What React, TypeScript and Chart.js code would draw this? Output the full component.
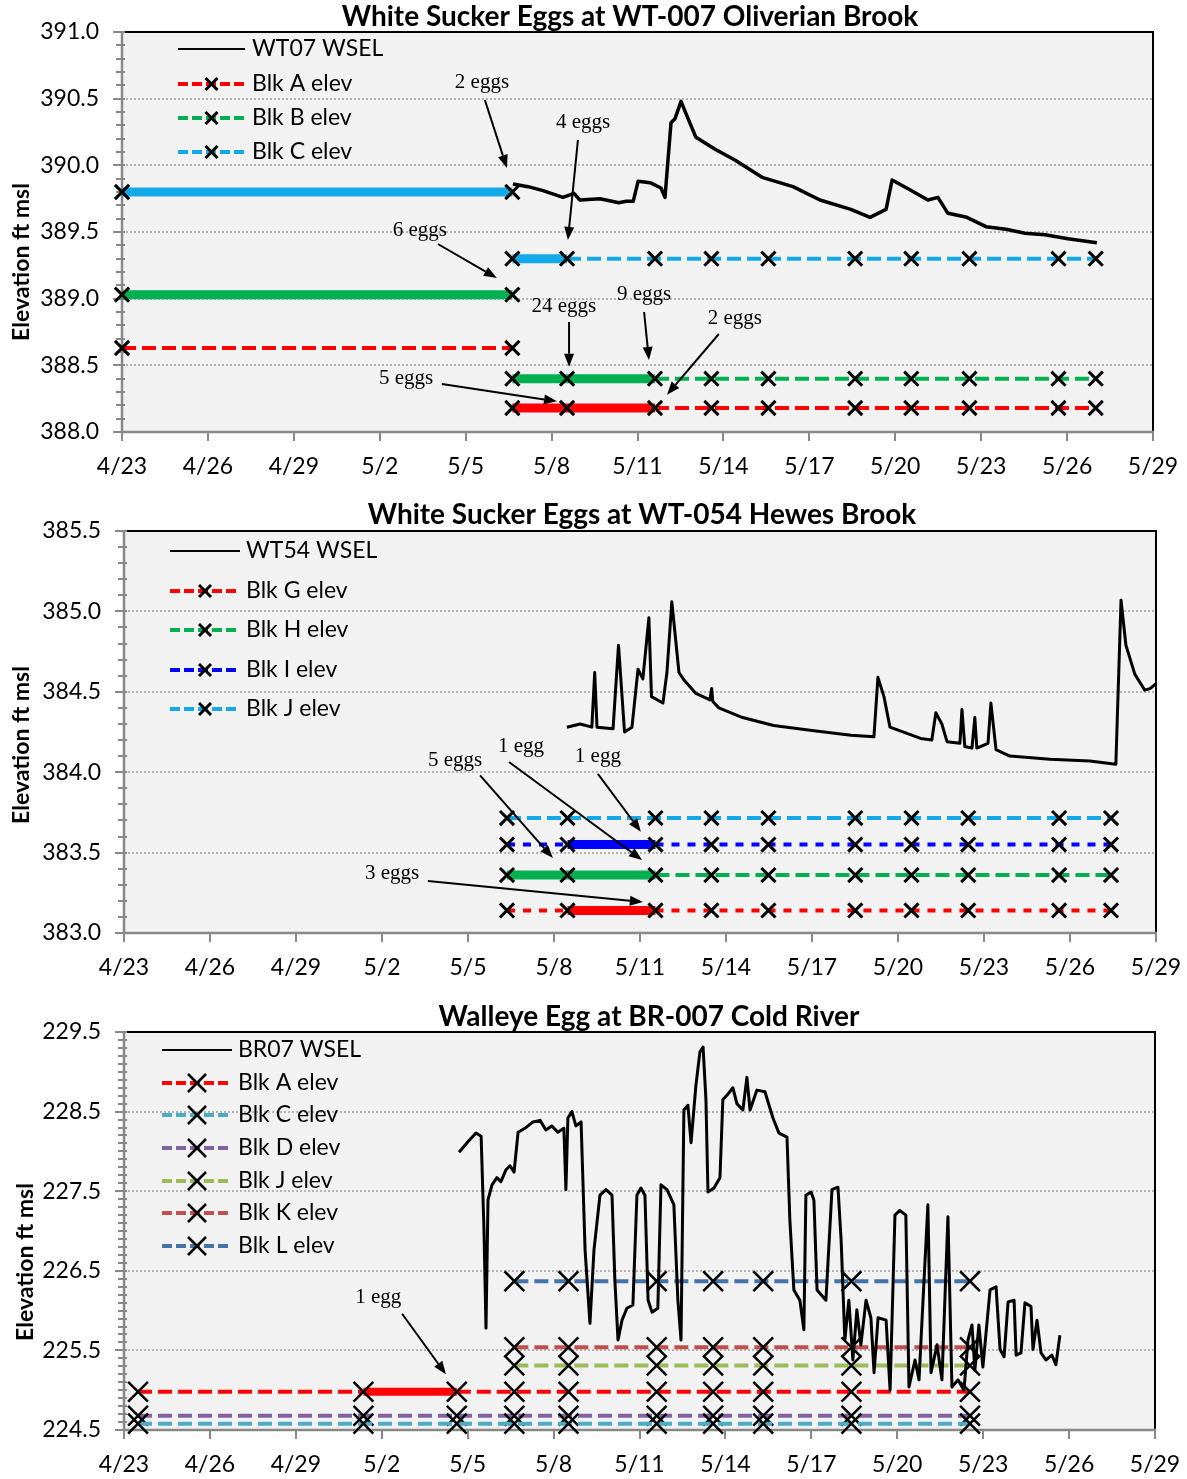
import React, { useEffect, useRef } from "react";
import { Chart, registerables } from "chart.js";

Chart.register(...registerables);

const FONT = "Lato, 'Open Sans', sans-serif";
const SERIF = "'Liberation Serif', 'DejaVu Serif', serif";

// ---------- shared x axis (days after 4/23) ----------
const xTickDays = [0, 3, 6, 9, 12, 15, 18, 21, 24, 27, 30, 33, 36];
const xTickLabels = ["4/23", "4/26", "4/29", "5/2", "5/5", "5/8", "5/11", "5/14", "5/17", "5/20", "5/23", "5/26", "5/29"];

// ---------- Panel 1: WT-007 Oliverian Brook ----------
const p1Title = "White Sucker Eggs at WT-007 Oliverian Brook";
const p1YTicks = [388.0, 388.5, 389.0, 389.5, 390.0, 390.5, 391.0];
const wt07Days = [13.65, 14.18, 14.7, 15.4, 15.78, 15.99, 16.69, 17.35, 17.6, 17.85, 18.02, 18.44, 18.82, 18.96, 19.17, 19.31, 19.52, 19.69, 20.04, 20.71, 21.4, 22.35, 23.43, 24.37, 25.45, 26.12, 26.68, 26.89, 27.48, 28.14, 28.49, 28.84, 29.5, 30.17, 30.87, 31.53, 32.23, 33.03, 34.04];
const wt07Elev = [389.86, 389.84, 389.81, 389.76, 389.79, 389.74, 389.75, 389.72, 389.73, 389.73, 389.88, 389.87, 389.83, 389.76, 390.32, 390.35, 390.48, 390.39, 390.21, 390.12, 390.04, 389.91, 389.84, 389.74, 389.67, 389.61, 389.67, 389.89, 389.82, 389.74, 389.76, 389.64, 389.61, 389.54, 389.52, 389.49, 389.48, 389.45, 389.42];
const p1EarlyDays = [0, 13.63];
const p1LateDays = [13.63, 15.54, 18.61, 20.58, 22.57, 25.6, 27.56, 29.59, 32.7, 34.0];
const p1BlkAElev = [388.63, 388.18];
const p1BlkBElev = [389.03, 388.4];
const p1BlkCElev = [389.8, 389.3];
const p1BlkAEggSegs = [[], [0, 1]];
const p1BlkBEggSegs = [[0], [0, 1]];
const p1BlkCEggSegs = [[0], [0]];
const p1NoteLabels = ["2 eggs", "4 eggs", "6 eggs", "24 eggs", "9 eggs", "2 eggs", "5 eggs"];
const p1NoteText = [[12.57, 390.625], [16.1, 390.32], [10.4, 389.515], [15.43, 388.94], [18.23, 389.035], [21.4, 388.855], [9.92, 388.4]];
const p1NoteTail = [[12.67, 390.49], [15.92, 390.19], [11.03, 389.41], [15.61, 388.825], [18.23, 388.9], [20.84, 388.735], [11.17, 388.36]];
const p1NoteHead = [[13.44, 389.98], [15.57, 389.44], [13.09, 389.155], [15.61, 388.49], [18.4, 388.54], [19.03, 388.28], [15.19, 388.23]];

// ---------- Panel 2: WT-054 Hewes Brook ----------
const p2Title = "White Sucker Eggs at WT-054 Hewes Brook";
const p2YTicks = [383.0, 383.5, 384.0, 384.5, 385.0, 385.5];
const wt54Days = [15.45, 15.91, 16.32, 16.42, 16.5, 17.06, 17.25, 17.46, 17.72, 17.93, 18.1, 18.31, 18.4, 18.8, 18.94, 19.11, 19.36, 19.55, 19.95, 20.44, 20.5, 20.54, 20.75, 21.58, 22.66, 24.0, 25.36, 26.16, 26.3, 26.51, 26.72, 27.79, 28.18, 28.32, 28.53, 28.71, 29.16, 29.23, 29.33, 29.58, 29.68, 29.75, 30.14, 30.24, 30.42, 30.9, 32.3, 33.69, 34.6, 34.78, 34.95, 35.26, 35.61, 35.79, 36.0];
const wt54Elev = [384.28, 384.3, 384.28, 384.62, 384.28, 384.27, 384.79, 384.25, 384.28, 384.64, 384.58, 384.96, 384.47, 384.43, 384.62, 385.06, 384.62, 384.57, 384.49, 384.45, 384.52, 384.44, 384.4, 384.34, 384.29, 384.26, 384.23, 384.22, 384.59, 384.47, 384.28, 384.21, 384.2, 384.37, 384.3, 384.19, 384.18, 384.39, 384.16, 384.15, 384.34, 384.15, 384.18, 384.43, 384.14, 384.1, 384.08, 384.07, 384.05, 385.07, 384.79, 384.61, 384.51, 384.52, 384.55];
const p2Days = [13.36, 15.47, 18.54, 20.49, 22.48, 25.51, 27.47, 29.45, 32.62, 34.43];
const p2BlkGElev = 383.14;
const p2BlkHElev = 383.36;
const p2BlkIElev = 383.55;
const p2BlkJElev = 383.715;
const p2BlkGEggSegs = [1];
const p2BlkHEggSegs = [0, 1];
const p2BlkIEggSegs = [1];
const p2BlkJEggSegs = [];
const p2NoteLabels = ["1 egg", "5 eggs", "1 egg", "3 eggs"];
const p2NoteText = [[13.85, 384.163], [11.55, 384.07], [16.53, 384.095], [9.35, 383.373]];
const p2NoteTail = [[13.43, 384.063], [12.42, 383.98], [16.53, 383.99], [10.6, 383.323]];
const p2NoteHead = [[18.07, 383.454], [14.96, 383.466], [18.03, 383.63], [18.1, 383.193]];

// ---------- Panel 3: BR-007 Cold River ----------
const p3Title = "Walleye Egg at BR-007 Cold River";
const p3YTicks = [224.5, 225.5, 226.5, 227.5, 228.5, 229.5];
const br07Days = [11.7, 12.01, 12.29, 12.47, 12.57, 12.64, 12.71, 12.85, 13.02, 13.16, 13.34, 13.48, 13.62, 13.76, 14.0, 14.28, 14.53, 14.73, 14.94, 15.15, 15.36, 15.43, 15.5, 15.64, 15.78, 15.96, 16.1, 16.27, 16.41, 16.62, 16.83, 17.04, 17.14, 17.25, 17.39, 17.56, 17.77, 17.91, 18.05, 18.19, 18.3, 18.44, 18.64, 18.75, 18.96, 19.2, 19.34, 19.45, 19.55, 19.69, 19.8, 19.97, 20.11, 20.22, 20.32, 20.39, 20.6, 20.81, 20.91, 21.09, 21.26, 21.4, 21.61, 21.75, 21.86, 22.1, 22.38, 22.66, 22.87, 23.15, 23.25, 23.39, 23.6, 23.74, 23.81, 23.99, 24.09, 24.2, 24.51, 24.72, 24.93, 25.04, 25.17, 25.31, 25.45, 25.59, 25.73, 25.91, 26.08, 26.19, 26.33, 26.61, 26.75, 26.92, 27.09, 27.3, 27.41, 27.62, 27.76, 27.9, 28.07, 28.18, 28.39, 28.56, 28.77, 28.91, 29.12, 29.33, 29.47, 29.61, 29.71, 29.85, 29.99, 30.24, 30.45, 30.59, 30.73, 30.87, 31.08, 31.15, 31.32, 31.46, 31.67, 31.74, 31.88, 32.02, 32.19, 32.4, 32.54, 32.68];
const br07Elev = [227.99, 228.12, 228.23, 228.19, 227.01, 225.78, 227.39, 227.58, 227.67, 227.62, 227.77, 227.82, 227.74, 228.24, 228.29, 228.37, 228.39, 228.27, 228.32, 228.24, 228.29, 227.52, 228.42, 228.5, 228.32, 228.37, 226.76, 225.84, 226.76, 227.45, 227.52, 227.45, 226.38, 225.63, 225.88, 226.03, 226.07, 227.45, 227.54, 227.45, 226.13, 225.98, 226.03, 227.58, 227.52, 227.33, 226.13, 225.63, 228.52, 228.58, 228.11, 228.83, 229.25, 229.31, 228.65, 227.49, 227.54, 227.67, 228.65, 228.72, 228.8, 228.6, 228.52, 228.93, 228.52, 228.77, 228.75, 228.42, 228.23, 228.18, 227.14, 226.26, 226.13, 225.76, 227.45, 227.49, 227.39, 226.26, 226.13, 227.52, 227.55, 226.89, 225.63, 226.13, 225.38, 226.01, 225.57, 226.13, 225.91, 225.22, 225.91, 225.88, 225.0, 227.2, 227.26, 227.2, 225.04, 225.38, 225.13, 226.13, 227.33, 225.22, 225.57, 225.13, 227.18, 225.04, 225.13, 225.0, 225.63, 225.82, 225.25, 225.82, 225.29, 226.26, 226.3, 225.51, 225.42, 226.11, 226.13, 225.44, 225.47, 226.1, 226.05, 225.51, 225.88, 225.47, 225.38, 225.44, 225.32, 225.69];
const p3DaysAll = [0.49, 8.36, 11.62, 13.63, 15.52, 18.6, 20.57, 22.32, 25.4, 29.54];
const p3DaysLate = [13.63, 15.52, 18.6, 20.57, 22.32, 25.4, 29.54];
const p3BlkAElev = 224.98;
const p3BlkCElev = 224.58;
const p3BlkDElev = 224.68;
const p3BlkJElev = 225.31;
const p3BlkKElev = 225.54;
const p3BlkLElev = 226.37;
const p3BlkAEggSegs = [1];
const p3NoteLabels = ["1 egg"];
const p3NoteText = [[8.88, 226.16]];
const p3NoteTail = [[9.71, 225.96]];
const p3NoteHead = [[11.24, 225.2]];

// ---------- colours ----------
const RED = "#FF0000";
const GREEN = "#00B050";
const SKY = "#12A9E6";
const BLUE = "#0000FF";
const LONG = [14, 6];
const SHORT = [8, 8];

const panels = [
  {
    top: 0, height: 495, area: { left: 122, top: 32, right: 1153, bottom: 432 },
    title: p1Title, titleX: 630, titleY: 17, yTitleX: 22, yTitleY: 262,
    yMin: 388, yMax: 391, yTicks: p1YTicks, gridVals: [388.5, 389, 389.5, 390, 390.5],
    wsel: { label: "WT07 WSEL", days: wt07Days, elev: wt07Elev, width: 3.5 },
    blocks: [
      { label: "Blk A elev", color: RED, dash: LONG, parts: [
        { days: p1EarlyDays, elev: p1BlkAElev[0], eggs: p1BlkAEggSegs[0] },
        { days: p1LateDays, elev: p1BlkAElev[1], eggs: p1BlkAEggSegs[1] }] },
      { label: "Blk B elev", color: GREEN, dash: LONG, parts: [
        { days: p1EarlyDays, elev: p1BlkBElev[0], eggs: p1BlkBEggSegs[0] },
        { days: p1LateDays, elev: p1BlkBElev[1], eggs: p1BlkBEggSegs[1] }] },
      { label: "Blk C elev", color: SKY, dash: LONG, parts: [
        { days: p1EarlyDays, elev: p1BlkCElev[0], eggs: p1BlkCEggSegs[0] },
        { days: p1LateDays, elev: p1BlkCElev[1], eggs: p1BlkCEggSegs[1] }] },
    ],
    lineW: 4, thickW: 9, markR: 10, markW: 3,
    legend: { x0: 56, x1: 123, rows: [17, 52, 86, 120], half: 6, markW: 3, gap: 7 },
    notes: { labels: p1NoteLabels, text: p1NoteText, tail: p1NoteTail, head: p1NoteHead },
  },
  {
    top: 495, height: 500, area: { left: 124, top: 531, right: 1156, bottom: 933 },
    title: p2Title, titleX: 642, titleY: 515, yTitleX: 22, yTitleY: 745,
    yMin: 383, yMax: 385.5, yTicks: p2YTicks, gridVals: [383.5, 384, 384.5, 385],
    wsel: { label: "WT54 WSEL", days: wt54Days, elev: wt54Elev, width: 3 },
    blocks: [
      { label: "Blk G elev", color: RED, dash: SHORT, parts: [{ days: p2Days, elev: p2BlkGElev, eggs: p2BlkGEggSegs }] },
      { label: "Blk H elev", color: GREEN, dash: LONG, parts: [{ days: p2Days, elev: p2BlkHElev, eggs: p2BlkHEggSegs }] },
      { label: "Blk I elev", color: BLUE, dash: SHORT, parts: [{ days: p2Days, elev: p2BlkIElev, eggs: p2BlkIEggSegs }] },
      { label: "Blk J elev", color: SKY, dash: LONG, parts: [{ days: p2Days, elev: p2BlkJElev, eggs: p2BlkJEggSegs }] },
    ],
    lineW: 4, thickW: 9, markR: 10, markW: 3,
    legend: { x0: 46, x1: 116, rows: [20, 60, 99, 139, 178], half: 6, markW: 3, gap: 6 },
    notes: { labels: p2NoteLabels, text: p2NoteText, tail: p2NoteTail, head: p2NoteHead },
  },
  {
    top: 995, height: 484, area: { left: 124, top: 1032, right: 1155, bottom: 1430 },
    title: p3Title, titleX: 649, titleY: 1017, yTitleX: 26, yTitleY: 1262,
    yMin: 224.5, yMax: 229.5, yTicks: p3YTicks, gridVals: [225.5, 226.5, 227.5, 228.5],
    wsel: { label: "BR07 WSEL", days: br07Days, elev: br07Elev, width: 3 },
    blocks: [
      { label: "Blk A elev", color: RED, dash: LONG, parts: [{ days: p3DaysAll, elev: p3BlkAElev, eggs: p3BlkAEggSegs }] },
      { label: "Blk C elev", color: "#4BACC6", dash: LONG, parts: [{ days: p3DaysAll, elev: p3BlkCElev, eggs: [] }] },
      { label: "Blk D elev", color: "#8064A2", dash: LONG, parts: [{ days: p3DaysAll, elev: p3BlkDElev, eggs: [] }] },
      { label: "Blk J elev", color: "#9BBB59", dash: LONG, parts: [{ days: p3DaysLate, elev: p3BlkJElev, eggs: [] }] },
      { label: "Blk K elev", color: "#C0504D", dash: LONG, parts: [{ days: p3DaysLate, elev: p3BlkKElev, eggs: [] }] },
      { label: "Blk L elev", color: "#4572A7", dash: LONG, parts: [{ days: p3DaysLate, elev: p3BlkLElev, eggs: [] }] },
    ],
    lineW: 4, thickW: 8, markR: 14, markW: 2.5,
    legend: { x0: 38, x1: 108, rows: [18, 51, 83, 116, 149, 181, 214], half: 9, markW: 2.5, gap: 6 },
    notes: { labels: p3NoteLabels, text: p3NoteText, tail: p3NoteTail, head: p3NoteHead },
  },
];

function seg(ctx, x0, y0, x1, y1) {
  ctx.beginPath();
  ctx.moveTo(x0, y0);
  ctx.lineTo(x1, y1);
  ctx.stroke();
}

function arrow(ctx, x0, y0, x1, y1) {
  const ang = Math.atan2(y1 - y0, x1 - x0);
  const hl = 13, hw = 5;
  const bx = x1 - hl * Math.cos(ang), by = y1 - hl * Math.sin(ang);
  ctx.lineWidth = 2;
  seg(ctx, x0, y0, bx, by);
  ctx.beginPath();
  ctx.moveTo(x1, y1);
  ctx.lineTo(bx + hw * Math.sin(ang), by - hw * Math.cos(ang));
  ctx.lineTo(bx - hw * Math.sin(ang), by + hw * Math.cos(ang));
  ctx.closePath();
  ctx.fill();
}

function decor(p) {
  return {
    id: "decor",
    beforeDraw(chart) {
      const { ctx, chartArea: c } = chart;
      ctx.save();
      ctx.fillStyle = "#FFFFFF";
      ctx.fillRect(0, 0, chart.width, chart.height);
      ctx.fillStyle = "#F2F2F2";
      ctx.fillRect(c.left, c.top, c.right - c.left, c.bottom - c.top);
      ctx.restore();
    },
    beforeDatasetsDraw(chart) {
      const { ctx, chartArea: c, scales } = chart;
      const ys = scales.y, xs = scales.x;
      ctx.save();
      ctx.strokeStyle = "#A0A0A0";
      ctx.lineWidth = 1.5;
      ctx.setLineDash([2, 2]);
      p.gridVals.forEach((v) => {
        const y = Math.round(ys.getPixelForValue(v));
        seg(ctx, c.left, y, c.right, y);
      });
      ctx.setLineDash([]);
      ctx.strokeStyle = "#000";
      ctx.lineWidth = 2;
      seg(ctx, c.left, c.top, c.right + 1, c.top);
      seg(ctx, c.right, c.top, c.right, c.bottom);
      ctx.strokeStyle = "#888888";
      ctx.lineWidth = 2.5;
      seg(ctx, c.left, c.top, c.left, c.bottom + 1);
      seg(ctx, c.left, c.bottom, c.right + 1, c.bottom);
      ctx.lineWidth = 2;
      const n = Math.round((p.yMax - p.yMin) / 0.1);
      for (let i = 0; i <= n; i++) {
        const y = Math.round(ys.getPixelForValue(p.yMin + i * 0.1));
        seg(ctx, c.left - 6, y, c.left + 3, y);
      }
      p.yTicks.forEach((v) => {
        const y = Math.round(ys.getPixelForValue(v));
        seg(ctx, c.left - 9, y, c.left, y);
      });
      xTickDays.forEach((d) => {
        const x = Math.round(xs.getPixelForValue(d));
        seg(ctx, x, c.bottom, x, c.bottom + 9);
      });
      ctx.restore();
    },
    afterDraw(chart) {
      const { ctx, chartArea: c, scales } = chart;
      const ys = scales.y, xs = scales.x;
      ctx.save();
      ctx.fillStyle = "#000";
      ctx.textAlign = "center";
      ctx.textBaseline = "middle";
      ctx.font = `bold 28px ${FONT}`;
      ctx.fillText(p.title, p.titleX, p.titleY - p.top);
      ctx.save();
      ctx.translate(p.yTitleX, p.yTitleY - p.top);
      ctx.rotate(-Math.PI / 2);
      ctx.font = `bold 23px ${FONT}`;
      ctx.fillText("Elevation ft msl", 0, 0);
      ctx.restore();

      const L = p.legend;
      const entries = [{ label: p.wsel.label, color: null }].concat(
        p.blocks.map((b) => ({ label: b.label, color: b.color }))
      );
      entries.forEach((e, i) => {
        const y = c.top + L.rows[i];
        const x0 = c.left + L.x0, x1 = c.left + L.x1;
        if (!e.color) {
          ctx.strokeStyle = "#000";
          ctx.lineWidth = 2;
          seg(ctx, x0, y, x1, y);
        } else {
          ctx.strokeStyle = e.color;
          ctx.lineWidth = 4;
          ctx.setLineDash([10, 4]);
          seg(ctx, x0, y, x1, y);
          ctx.setLineDash([]);
          const xm = (x0 + x1) / 2, h = L.half;
          ctx.strokeStyle = "#000";
          ctx.lineWidth = L.markW;
          seg(ctx, xm - h, y - h, xm + h, y + h);
          seg(ctx, xm - h, y + h, xm + h, y - h);
        }
        ctx.fillStyle = "#000";
        ctx.font = `23px ${FONT}`;
        ctx.textAlign = "left";
        ctx.fillText(e.label, x1 + L.gap, y);
      });

      ctx.font = `21px ${SERIF}`;
      ctx.textAlign = "center";
      ctx.fillStyle = "#000";
      ctx.strokeStyle = "#000";
      p.notes.labels.forEach((t, i) => {
        const [tx, ty] = p.notes.text[i];
        ctx.fillText(t, xs.getPixelForValue(tx), ys.getPixelForValue(ty));
        const [fx, fy] = p.notes.tail[i];
        const [hx, hy] = p.notes.head[i];
        arrow(ctx, xs.getPixelForValue(fx), ys.getPixelForValue(fy), xs.getPixelForValue(hx), ys.getPixelForValue(hy));
      });
      ctx.restore();
    },
  };
}

function buildChart(canvas, p) {
  const a = p.area;
  const padTop = a.top - p.top;
  const padRight = 1187 - a.right;
  const xH = p.top + p.height - a.bottom;
  const datasets = [];
  datasets.push({
    label: p.wsel.label,
    data: p.wsel.days.map((d, i) => ({ x: d, y: p.wsel.elev[i] })),
    borderColor: "#000",
    backgroundColor: "#000",
    borderWidth: p.wsel.width,
    borderJoinStyle: "round",
    pointRadius: 0,
    tension: 0,
  });
  p.blocks.forEach((b) => {
    b.parts.forEach((part) => {
      datasets.push({
        label: b.label,
        data: part.days.map((d) => ({ x: d, y: part.elev })),
        borderColor: b.color,
        backgroundColor: b.color,
        borderWidth: p.lineW,
        borderDash: b.dash,
        borderCapStyle: "butt",
        tension: 0,
        pointStyle: "crossRot",
        pointRadius: p.markR,
        pointHoverRadius: p.markR,
        pointBorderColor: "#000",
        pointBackgroundColor: "#000",
        pointBorderWidth: p.markW,
        clip: false,
        segment: {
          borderWidth: (ctx) => (part.eggs.includes(ctx.p0DataIndex) ? p.thickW : p.lineW),
          borderDash: (ctx) => (part.eggs.includes(ctx.p0DataIndex) ? [] : b.dash),
        },
      });
    });
  });

  return new Chart(canvas, {
    type: "line",
    data: { datasets },
    options: {
      responsive: false,
      animation: false,
      devicePixelRatio: 1,
      events: [],
      layout: { padding: { top: padTop, right: padRight, left: 0, bottom: 0 } },
      plugins: { legend: { display: false }, title: { display: false }, tooltip: { enabled: false } },
      scales: {
        x: {
          type: "linear",
          min: 0,
          max: 36,
          grid: { display: false },
          border: { display: false },
          ticks: {
            autoSkip: false,
            maxRotation: 0,
            minRotation: 0,
            padding: 13,
            color: "#000",
            font: { family: FONT, size: 23 },
            callback: (v) => {
              const i = xTickDays.indexOf(Number(v));
              return i >= 0 ? xTickLabels[i] : "";
            },
          },
          afterBuildTicks: (s) => {
            s.ticks = xTickDays.map((v) => ({ value: v }));
          },
          afterFit: (s) => {
            s.height = xH;
            s.paddingLeft = 0;
            s.paddingRight = 0;
          },
        },
        y: {
          type: "linear",
          min: p.yMin,
          max: p.yMax,
          grid: { display: false },
          border: { display: false },
          ticks: {
            padding: 15,
            color: "#000",
            font: { family: FONT, size: 23 },
            callback: (v) => Number(v).toFixed(1),
          },
          afterBuildTicks: (s) => {
            s.ticks = p.yTicks.map((v) => ({ value: v }));
          },
          afterFit: (s) => {
            s.width = a.left;
            s.paddingTop = 0;
            s.paddingBottom = 0;
          },
        },
      },
    },
    plugins: [decor(p)],
  });
}

function Panel({ p }) {
  const ref = useRef(null);
  useEffect(() => {
    const chart = buildChart(ref.current, p);
    let alive = true;
    const fontsApi = document.fonts;
    if (fontsApi) {
      Promise.all([
        fontsApi.load(`23px Lato`),
        fontsApi.load(`bold 28px Lato`),
        fontsApi.load(`21px "Liberation Serif"`),
      ])
        .catch(() => null)
        .then(() => {
          if (alive) chart.update();
        });
    }
    return () => {
      alive = false;
      chart.destroy();
    };
  }, []);
  return (
    <canvas
      ref={ref}
      width={1187}
      height={p.height}
      style={{ position: "absolute", left: 0, top: p.top, width: 1187, height: p.height, display: "block" }}
    />
  );
}

export default function App() {
  return (
    <div style={{ position: "absolute", left: 0, top: 0, width: 1187, height: 1479, background: "#fff", overflow: "hidden" }}>
      {panels.map((p, i) => (
        <Panel key={i} p={p} />
      ))}
    </div>
  );
}
